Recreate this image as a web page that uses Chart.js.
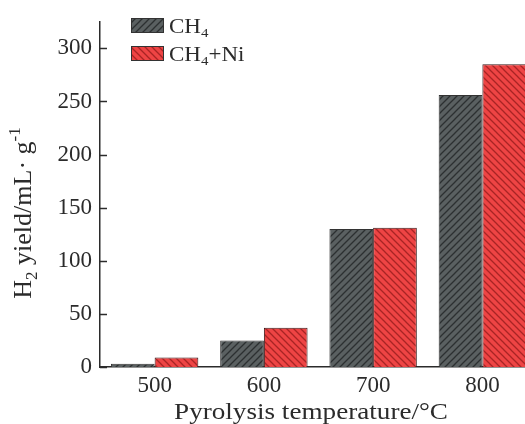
<!DOCTYPE html>
<html>
<head>
<meta charset="utf-8">
<script src="https://cdn.jsdelivr.net/npm/chart.js@4.4.0/dist/chart.umd.min.js"></script>
<style>
  html, body { margin: 0; padding: 0; background: #fff; overflow: hidden; }
  #wrap { width: 540px; height: 424px; }
</style>
</head>
<body>
<div id="wrap"><canvas id="chart" width="540" height="424"></canvas></div>
<script>
// данные: выход H2 при разных температурах пиролиза
const temps = ['500', '600', '700', '800'];
const ch4 = [3, 25, 130, 256];
const ch4Ni = [9, 37, 131, 285];

const yMax = 325;
const yStep = 25;      // малые деления, подписи через 50
const yLabelStep = 50;

const SERIF = "'Liberation Serif', 'Times New Roman', serif";
const INK = '#2b2b2b';

const ctx = document.getElementById('chart').getContext('2d');

// штриховка столбцов
function hatch(bg, line, dir) {
    const p = 7;
    const c = document.createElement('canvas');
    c.width = p; c.height = p;
    const g = c.getContext('2d');
    g.fillStyle = bg;
    g.fillRect(0, 0, p, p);
    g.strokeStyle = line;
    g.lineWidth = 1.3;
    g.beginPath();
    if (dir > 0) {
        g.moveTo(-1, p + 1); g.lineTo(p + 1, -1);
        g.moveTo(-1, 1); g.lineTo(1, -1);
        g.moveTo(p - 1, p + 1); g.lineTo(p + 1, p - 1);
    } else {
        g.moveTo(-1, -1); g.lineTo(p + 1, p + 1);
        g.moveTo(p - 1, -1); g.lineTo(p + 1, 1);
        g.moveTo(-1, p - 1); g.lineTo(1, p + 1);
    }
    g.stroke();
    return ctx.createPattern(c, 'repeat');
}

const darkFill = hatch('#5a6061', '#2c3031', 1);
const redFill = hatch('#ee4444', '#a82424', -1);

// текст с индексами: части {t, sub, sup}
function drawRich(c, parts, o) {
    const base = o.size;
    const fontOf = p => ((p.sub || p.sup) ? Math.round(base * 0.65) : base) + 'px ' + SERIF;
    c.save();
    c.translate(o.x, o.y);
    if (o.rotate) c.rotate(o.rotate);
    c.scale(o.sx || 1, o.sy || 1);
    let total = 0;
    parts.forEach(p => { c.font = fontOf(p); total += c.measureText(p.t).width; });
    let cx = o.align === 'center' ? -total / 2 : 0;
    c.fillStyle = INK;
    c.textBaseline = 'alphabetic';
    c.textAlign = 'left';
    parts.forEach(p => {
        c.font = fontOf(p);
        let dy = 0;
        if (p.sub) dy = base * 0.22;
        if (p.sup) dy = -base * 0.42;
        c.fillText(p.t, cx, dy);
        cx += c.measureText(p.t).width;
    });
    c.restore();
}

const legendItems = [
    { fill: darkFill, parts: [{ t: 'CH' }, { t: '4', sub: true }] },
    { fill: redFill, parts: [{ t: 'CH' }, { t: '4', sub: true }, { t: '+Ni' }] }
];

const yTitle = [{ t: 'H' }, { t: '2', sub: true }, { t: ' yield/mL· g' }, { t: '-1', sup: true }];
const xTitle = [{ t: 'Pyrolysis temperature/°C' }];

// деления оси Y внутрь, легенда и подписи осей
const decor = {
    id: 'decor',
    afterDraw(chart) {
        const c = chart.ctx;
        const y = chart.scales.y;
        const left = chart.chartArea.left;

        c.save();
        c.strokeStyle = INK;
        c.lineWidth = 1.5;
        y.ticks.forEach((tk, i) => {
            const py = Math.round(y.getPixelForTick(i)) + 0.5;
            const len = tk.value % yLabelStep === 0 ? 7 : 4;
            c.beginPath();
            c.moveTo(left, py);
            c.lineTo(left + len, py);
            c.stroke();
        });
        c.restore();

        legendItems.forEach((it, i) => {
            const top = 18 + i * 28;
            c.save();
            c.fillStyle = it.fill;
            c.fillRect(131, top, 33, 15);
            c.strokeStyle = '#333';
            c.lineWidth = 1;
            c.strokeRect(131.5, top + 0.5, 32, 14);
            c.restore();
            drawRich(c, it.parts, { x: 169, y: top + 15, size: 20, sx: 1.15 });
        });

        drawRich(c, xTitle, { x: 311, y: 419, size: 23, sx: 1.18, align: 'center' });
        drawRich(c, yTitle, { x: 31, y: 213, size: 26, rotate: -Math.PI / 2, align: 'center' });
    }
};

const chart = new Chart(ctx, {
    type: 'bar',
    data: {
        labels: temps,
        datasets: [{
            label: 'CH4',
            data: ch4,
            backgroundColor: darkFill,
            borderColor: '#333',
            borderWidth: 1
        }, {
            label: 'CH4+Ni',
            data: ch4Ni,
            backgroundColor: redFill,
            borderColor: '#3a1a1a',
            borderWidth: 1
        }]
    },
    options: {
        responsive: false,
        animation: false,
        layout: { padding: { top: 15, right: 3, left: 0, bottom: 0 } },
        datasets: { bar: { categoryPercentage: 0.8, barPercentage: 1.0 } },
        plugins: {
            legend: { display: false },
            tooltip: { enabled: false }
        },
        scales: {
            x: {
                afterFit(scale) { scale.height = 57; },
                grid: { display: false, drawTicks: false },
                border: { display: true, color: INK, width: 1.5 },
                ticks: {
                    padding: 5,
                    color: INK,
                    font: { family: SERIF, size: 23 }
                }
            },
            y: {
                min: 0,
                max: yMax,
                afterFit(scale) { scale.width = 100; },
                grid: { display: false, drawTicks: false },
                border: { display: true, color: INK, width: 1.5 },
                ticks: {
                    stepSize: yStep,
                    padding: 8,
                    color: INK,
                    font: { family: SERIF, size: 23 },
                    callback: v => (v % yLabelStep === 0 ? v : '')
                }
            }
        }
    },
    plugins: [decor]
});
</script>
</body>
</html>
